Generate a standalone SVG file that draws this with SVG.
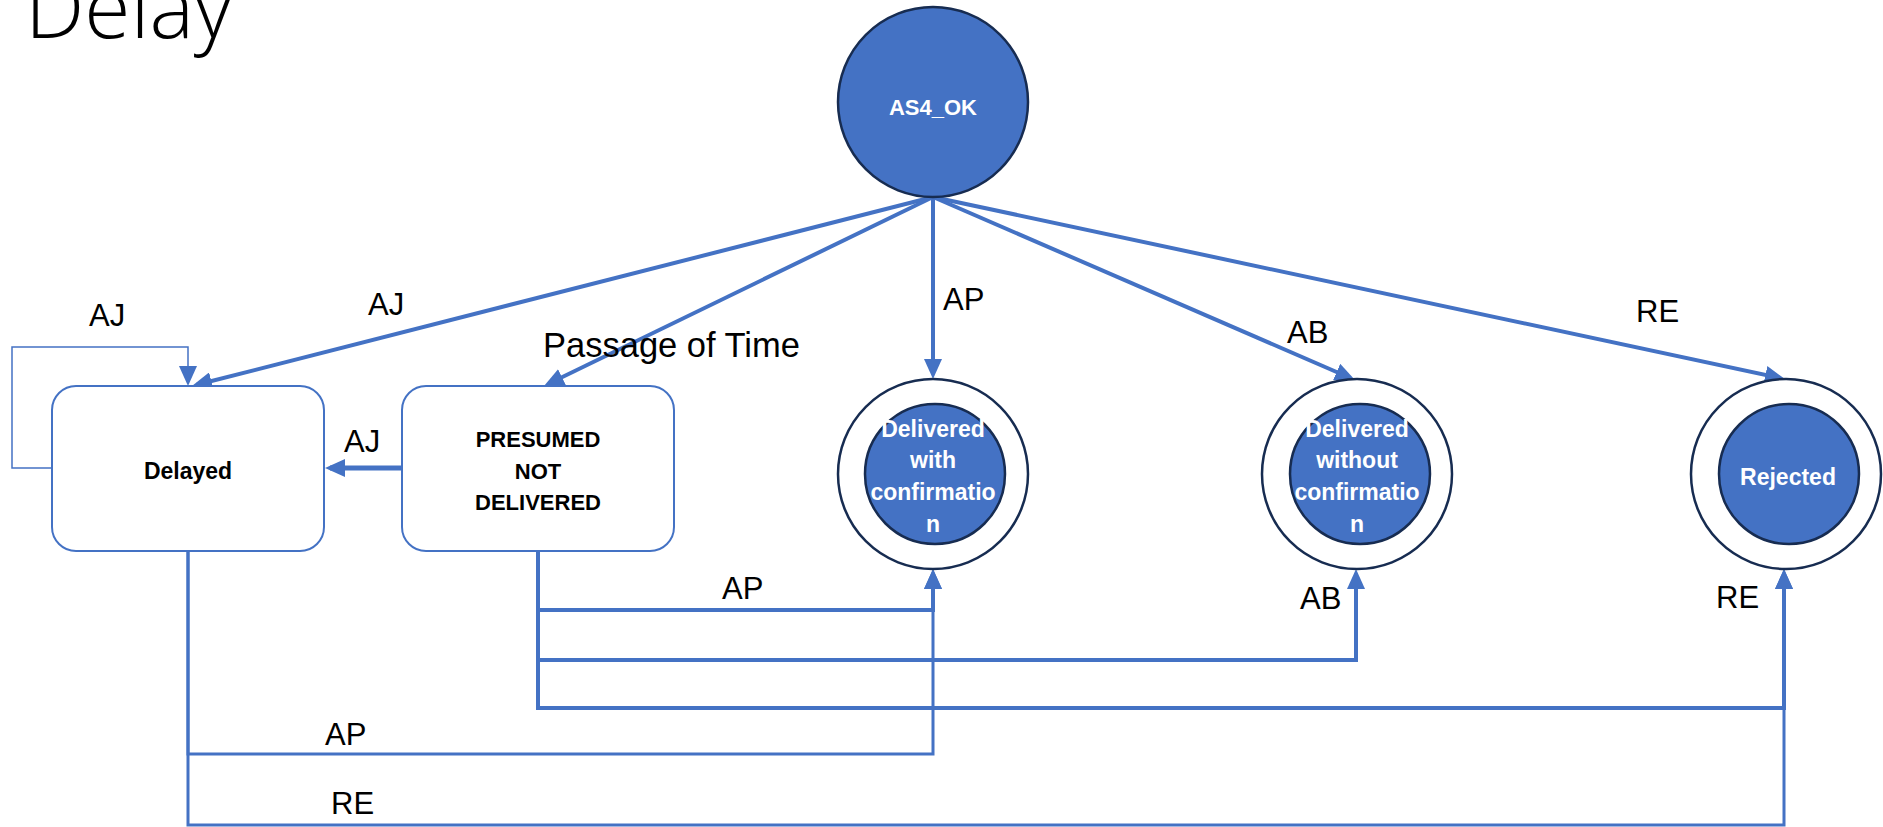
<svg xmlns="http://www.w3.org/2000/svg" width="1883" height="827" viewBox="0 0 1883 827">
<style>
.line{fill:none;stroke:#4472c4;stroke-linejoin:miter}
.box{fill:#ffffff;stroke:#4472c4;stroke-width:2}
.outer{fill:#ffffff;stroke:#172c51;stroke-width:2.5}
.inner{fill:#4472c4;stroke:#172c51;stroke-width:2.5}
.ntxt{font-family:"Liberation Sans",Arial,sans-serif;font-size:23px;font-weight:bold;text-anchor:middle}
.w{fill:#ffffff}
.k{fill:#000000}
.lbl{font-family:"Liberation Sans",Arial,sans-serif;font-size:31px;fill:#000000}
.big{font-size:34.5px}
.s22{font-size:22px}
</style>
<defs>
<marker id="arr" markerUnits="userSpaceOnUse" markerWidth="20" markerHeight="18" refX="15" refY="9" orient="auto">
<path d="M0,0 L20,9 L0,18 z" fill="#4472c4"/>
</marker>
</defs>
<rect width="1883" height="827" fill="#ffffff"/>
<text x="25" y="38" font-family="'Open Sans','Liberation Sans',sans-serif" font-weight="300" font-size="84" fill="#000000">Delay</text>

<g id="connectors">
<path class="line" stroke-width="4" d="M933,197 L196.8,384.8" marker-end="url(#arr)"/>
<path class="line" stroke-width="4" d="M933,197 L548.5,383.8" marker-end="url(#arr)"/>
<path class="line" stroke-width="4" d="M933,197 L933,374" marker-end="url(#arr)"/>
<path class="line" stroke-width="4" d="M933,197 L1350.4,378" marker-end="url(#arr)"/>
<path class="line" stroke-width="4" d="M933,197 L1780.1,378" marker-end="url(#arr)"/>
<path class="line" stroke-width="1.5" d="M52,468 H12 V347 H188 V381" marker-end="url(#arr)"/>
<path class="line" stroke-width="5" d="M402,468 H330" marker-end="url(#arr)"/>
<path class="line" stroke-width="4" d="M538,551 V610 H933 V574" marker-end="url(#arr)"/>
<path class="line" stroke-width="4" d="M538,551 V660 H1356 V574" marker-end="url(#arr)"/>
<path class="line" stroke-width="4" d="M538,551 V708 H1784 V574" marker-end="url(#arr)"/>
<path class="line" stroke-width="3" d="M188,551 V754 H933 V574" marker-end="url(#arr)"/>
<path class="line" stroke-width="3" d="M188,551 V825 H1784 V574" marker-end="url(#arr)"/>
<text class="lbl" x="89" y="326">AJ</text>
<text class="lbl" x="368" y="315">AJ</text>
<text class="lbl big" x="543" y="357">Passage of Time</text>
<text class="lbl" x="943" y="310">AP</text>
<text class="lbl" x="1287" y="343">AB</text>
<text class="lbl" x="1636" y="322">RE</text>
<text class="lbl" x="344" y="452">AJ</text>
<text class="lbl" x="722" y="599">AP</text>
<text class="lbl" x="1300" y="609">AB</text>
<text class="lbl" x="1716" y="608">RE</text>
<text class="lbl" x="325" y="745">AP</text>
<text class="lbl" x="331" y="814">RE</text>
</g>

<g id="as4ok">
<circle class="inner" cx="933" cy="102" r="95"/>
<text class="ntxt w s22" x="933" y="115">AS4_OK</text>
</g>

<g id="delayed">
<rect class="box" x="52" y="386" width="272" height="165" rx="24" ry="24"/>
<text class="ntxt k" x="188" y="479">Delayed</text>
</g>

<g id="presumed">
<rect class="box" x="402" y="386" width="272" height="165" rx="24" ry="24"/>
<text class="ntxt k s22" x="538" y="447">PRESUMED</text>
<text class="ntxt k s22" x="538" y="479">NOT</text>
<text class="ntxt k s22" x="538" y="510">DELIVERED</text>
</g>

<g id="delivered-with">
<circle class="outer" cx="933" cy="474" r="95"/>
<circle class="inner" cx="935" cy="474" r="70"/>
<text class="ntxt w" x="933" y="437">Delivered</text>
<text class="ntxt w" x="933" y="468">with</text>
<text class="ntxt w" x="933" y="500">confirmatio</text>
<text class="ntxt w" x="933" y="532">n</text>
</g>

<g id="delivered-without">
<circle class="outer" cx="1357" cy="474" r="95"/>
<circle class="inner" cx="1360" cy="474" r="70"/>
<text class="ntxt w" x="1357" y="437">Delivered</text>
<text class="ntxt w" x="1357" y="468">without</text>
<text class="ntxt w" x="1357" y="500">confirmatio</text>
<text class="ntxt w" x="1357" y="532">n</text>
</g>

<g id="rejected">
<circle class="outer" cx="1786" cy="474" r="95"/>
<circle class="inner" cx="1789" cy="474" r="70"/>
<text class="ntxt w" x="1788" y="485">Rejected</text>
</g>
</svg>
